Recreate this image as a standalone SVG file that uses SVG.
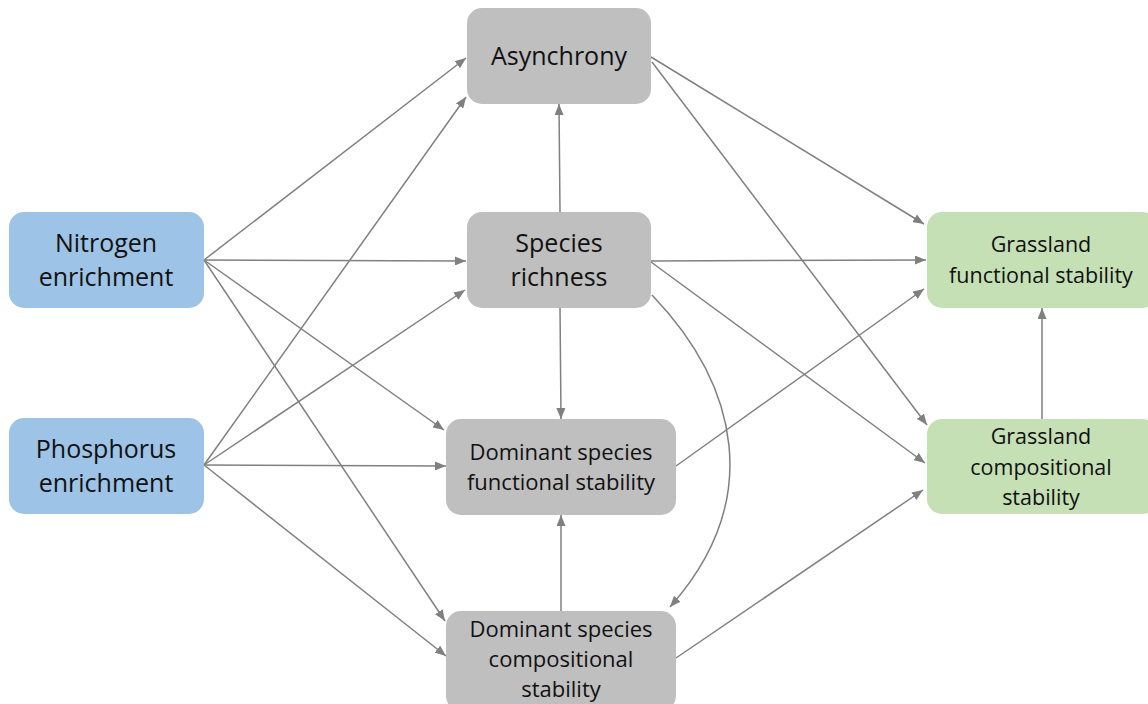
<svg xmlns="http://www.w3.org/2000/svg" width="1148" height="704" viewBox="0 0 1148 704">
<style>
.blue{fill:#9DC3E6}
.gray{fill:#BFBFBF}
.green{fill:#C5E0B4}
text{font-family:"Open Sans","Liberation Sans",sans-serif;fill:#111;text-anchor:middle;dominant-baseline:central}
.big{font-size:25px}
.sm{font-size:22px}
.gs{font-size:21.5px}
#connectors path,#connectors line{stroke:#808080;stroke-width:1.5;fill:none;marker-end:url(#ah)}
</style>
<defs>
<marker id="ah" markerUnits="userSpaceOnUse" markerWidth="11" markerHeight="9" refX="11" refY="4.5" orient="auto">
<path d="M0,0 L11,4.5 L0,9 z" fill="#808080"/>
</marker>
</defs>
<rect width="1148" height="704" fill="#fff"/>
<g id="connectors">
<line x1="204" y1="260" x2="466" y2="58"/>
<line x1="204" y1="260" x2="466" y2="261"/>
<line x1="204" y1="260" x2="444" y2="430"/>
<line x1="204" y1="260" x2="445" y2="621"/>
<line x1="204" y1="465" x2="466" y2="97"/>
<line x1="204" y1="465" x2="465" y2="290"/>
<line x1="204" y1="465" x2="446" y2="466"/>
<line x1="204" y1="465" x2="446" y2="656"/>
<line x1="651" y1="57" x2="924" y2="224"/>
<line x1="652" y1="62" x2="927" y2="425"/>
<line x1="560" y1="212" x2="559" y2="104"/>
<line x1="560" y1="307" x2="561" y2="419"/>
<line x1="651" y1="261" x2="926" y2="260"/>
<line x1="651" y1="262" x2="925" y2="463"/>
<path d="M652,295 C738,385 765,500 670,607"/>
<line x1="676" y1="466" x2="924" y2="289"/>
<line x1="676" y1="658" x2="923" y2="490"/>
<line x1="561" y1="611" x2="561" y2="515"/>
<line x1="1042" y1="419" x2="1042" y2="308"/>
</g>
<g id="nitrogen">
<rect class="blue" x="9" y="212" width="195" height="96" rx="15"/>
<text class="big" x="106" y="242">Nitrogen</text>
<text class="big" x="106" y="276">enrichment</text>
</g>
<g id="phosphorus">
<rect class="blue" x="9" y="418" width="195" height="96" rx="15"/>
<text class="big" x="106" y="448">Phosphorus</text>
<text class="big" x="106" y="482">enrichment</text>
</g>
<g id="asynchrony">
<rect class="gray" x="467" y="8" width="184" height="96" rx="15"/>
<text class="big" x="559" y="55">Asynchrony</text>
</g>
<g id="richness">
<rect class="gray" x="467" y="212" width="184" height="96" rx="15"/>
<text class="big" x="559" y="242">Species</text>
<text class="big" x="559" y="276">richness</text>
</g>
<g id="dom-func">
<rect class="gray" x="446" y="419" width="230" height="96" rx="15"/>
<text class="sm" x="561" y="451">Dominant species</text>
<text class="sm" x="561" y="481">functional stability</text>
</g>
<g id="dom-comp">
<rect class="gray" x="446" y="611" width="230" height="100" rx="15"/>
<text class="sm" x="561" y="628">Dominant species</text>
<text class="sm" x="561" y="658">compositional</text>
<text class="sm" x="561" y="688">stability</text>
</g>
<g id="grass-func">
<rect class="green" x="927" y="212" width="230" height="96" rx="15"/>
<text class="gs" x="1041" y="243">Grassland</text>
<text class="gs" x="1041" y="274">functional stability</text>
</g>
<g id="grass-comp">
<rect class="green" x="927" y="419" width="230" height="95" rx="15"/>
<text class="gs" x="1041" y="435">Grassland</text>
<text class="gs" x="1041" y="466">compositional</text>
<text class="gs" x="1041" y="496">stability</text>
</g>
</svg>
